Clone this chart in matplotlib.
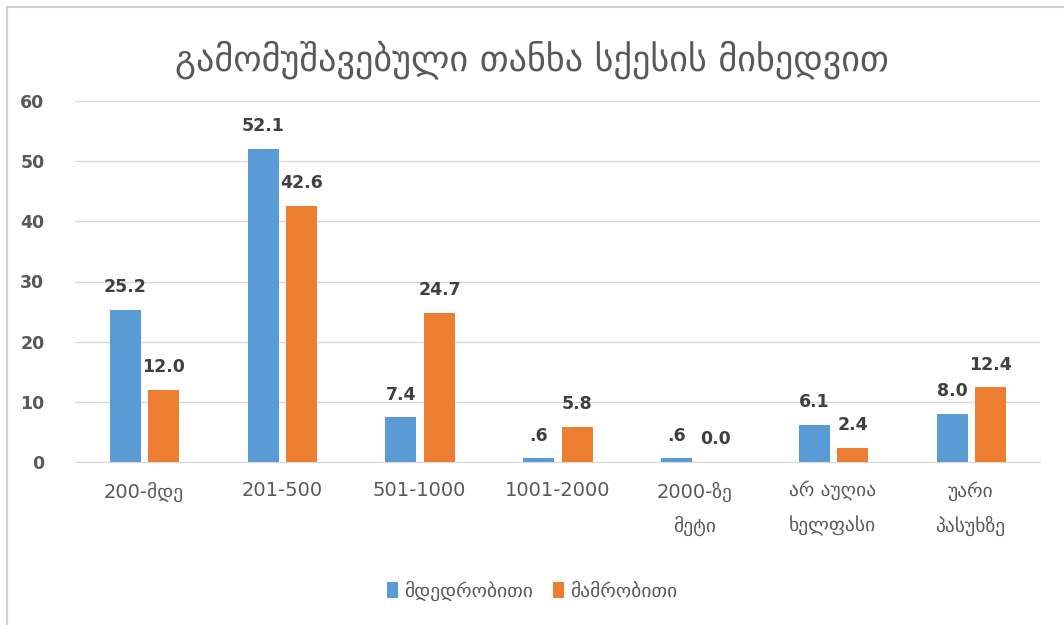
import numpy as np
import matplotlib.pyplot as plt
from matplotlib.lines import Line2D

# მონაცემები
categories = ["200-მდე", "201-500", "501-1000", "1001-2000",
              "2000-ზე\nმეტი", "არ აუღია\nხელფასი", "უარი\nპასუხზე"]
female = [25.2, 52.1, 7.4, 0.6, 0.6, 6.1, 8.0]
male = [12.0, 42.6, 24.7, 5.8, 0.0, 2.4, 12.4]
series_names = ["მდედრობითი", "მამრობითი"]
title = "გამომუშავებული თანხა სქესის მიხედვით"

BLUE = "#5B9BD5"
ORANGE = "#ED7D31"
TXT = "#595959"

plt.rcParams['font.family'] = ['DejaVu Sans']


def fmt(v):
    s = "%.1f" % v
    if s.startswith("0.") and v != 0:
        s = s[1:]
    return s


fig = plt.figure(figsize=(10.64, 6.25), dpi=100)
ax = fig.add_axes([0.0705, 0.2608, 0.9065, 0.5776])

x = np.arange(len(categories))
w = 0.225
b1 = ax.bar(x - 0.135, female, w, color=BLUE, label=series_names[0], zorder=2)
b2 = ax.bar(x + 0.145, male, w, color=ORANGE, label=series_names[1], zorder=2)

for bars, vals in ((b1, female), (b2, male)):
    for r, v in zip(bars, vals):
        ax.annotate(fmt(v), (r.get_x() + r.get_width() / 2, r.get_height()),
                    xytext=(0, 10), textcoords="offset points",
                    ha="center", va="bottom", fontsize=12.5,
                    fontweight="bold", color="#404040")

ax.set_xlim(-0.5, len(categories) - 0.5)
ax.set_ylim(0, 60)
ax.set_yticks(range(0, 61, 10))
ax.yaxis.grid(True, color="#D9D9D9", linewidth=1, zorder=0)
ax.set_axisbelow(True)
for s in ["top", "right", "left"]:
    ax.spines[s].set_visible(False)
ax.spines["bottom"].set_color("#D9D9D9")
ax.tick_params(axis="y", length=0, labelsize=12.5, labelcolor=TXT, pad=22)
ax.tick_params(axis="x", length=0, labelsize=14, labelcolor=TXT, pad=14)
for lab in ax.get_yticklabels():
    lab.set_fontweight("bold")
ax.set_xticks(x)
ax.set_xticklabels(categories, linespacing=1.9)

fig.text(0.5, 0.905, title, ha="center", va="center", fontsize=26, color=TXT)

fig.legend(handles=[b1, b2], loc="center", bbox_to_anchor=(0.5, 0.055),
           ncol=2, frameon=False, fontsize=14, labelcolor=TXT,
           handlelength=0.6, handleheight=0.9, handletextpad=0.3,
           columnspacing=1.0)

# ჩარჩო
fig.add_artist(Line2D([0.0066, 0.0066], [0, 0.989], color="#D0D0D0",
                      linewidth=1.5, transform=fig.transFigure))
fig.add_artist(Line2D([0.0066, 1], [0.989, 0.989], color="#D0D0D0",
                      linewidth=1.5, transform=fig.transFigure))

fig.savefig("out.png", dpi=100, facecolor="white")
